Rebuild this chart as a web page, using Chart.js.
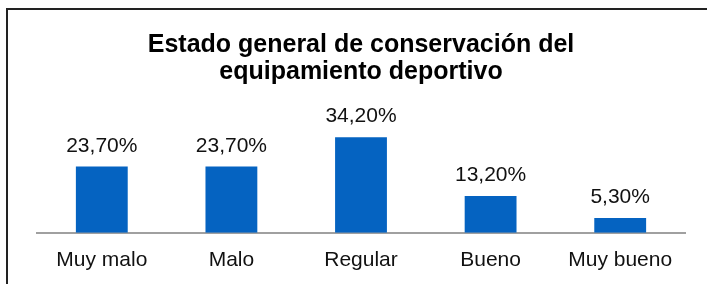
<!DOCTYPE html>
<html>
<head>
<meta charset="utf-8">
<script src="https://cdn.jsdelivr.net/npm/chart.js@4"></script>
<style>
  html, body { margin: 0; padding: 0; overflow: hidden; background: #fff; }
  #marco { position: absolute; left: 6px; top: 8px; width: 720px; height: 300px; border: 2px solid #222; box-sizing: border-box; }
  #grafico { position: absolute; left: 0; top: 0; }
</style>
</head>
<body>
<div id="marco"></div>
<canvas id="grafico" width="707" height="284"></canvas>
<script>
const categorias = ['Muy malo', 'Malo', 'Regular', 'Bueno', 'Muy bueno'];
const porcentajes = [23.7, 23.7, 34.2, 13.2, 5.3];
const tituloLineas = ['Estado general de conservación del', 'equipamiento deportivo'];

const fuente = "'Liberation Sans', Arial, sans-serif";

// etiquetas de valor encima de cada barra
const etiquetasValor = {
    id: 'etiquetasValor',
    afterDatasetsDraw(chart) {
        const ctx = chart.ctx;
        const meta = chart.getDatasetMeta(0);
        ctx.save();
        ctx.font = '21px ' + fuente;
        ctx.fillStyle = '#111';
        ctx.textAlign = 'center';
        ctx.textBaseline = 'alphabetic';
        meta.data.forEach(function (barra, i) {
            const texto = porcentajes[i].toFixed(2).replace('.', ',') + '%';
            ctx.fillText(texto, barra.x, barra.y - 15);
        });
        ctx.restore();
    }
};

const ctx = document.getElementById('grafico').getContext('2d');
new Chart(ctx, {
    type: 'bar',
    data: {
        labels: categorias,
        datasets: [{
            data: porcentajes,
            backgroundColor: '#0563C1',
            borderWidth: 0,
            categoryPercentage: 1,
            barPercentage: 0.4
        }]
    },
    options: {
        responsive: false,
        animation: false,
        layout: { padding: { top: 0, left: 37, right: 22, bottom: -4 } },
        plugins: {
            legend: { display: false },
            tooltip: { enabled: false },
            title: {
                display: true,
                text: tituloLineas,
                color: '#000',
                font: { family: fuente, size: 25, weight: 'bold', lineHeight: 1.08 },
                padding: { top: 32, bottom: 35 }
            }
        },
        scales: {
            y: { display: false, min: 0, max: 40 },
            x: {
                grid: { display: false, drawTicks: false },
                border: { display: true, color: '#a0a0a0', width: 2 },
                ticks: {
                    color: '#111',
                    padding: 15,
                    font: { family: fuente, size: 21 }
                }
            }
        }
    },
    plugins: [etiquetasValor]
});
</script>
</body>
</html>
